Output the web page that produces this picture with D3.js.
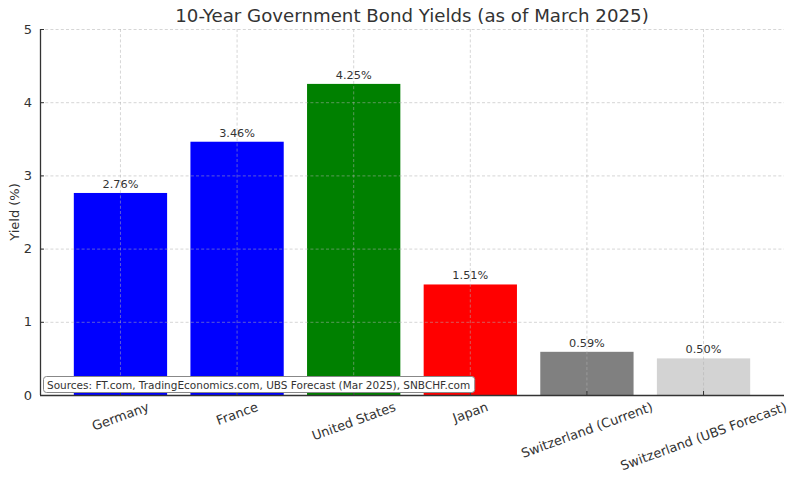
<!DOCTYPE html>
<html><head><meta charset="utf-8">
<script src="https://cdn.jsdelivr.net/npm/d3@7"></script>
<style>
html,body{margin:0;padding:0;background:#fff;}
text{font-family:"DejaVu Sans",sans-serif;fill:#333;}
</style></head>
<body><svg id="c" width="800" height="484"></svg>
<script>
const countries = ["Germany","France","United States","Japan","Switzerland (Current)","Switzerland (UBS Forecast)"];
const yields = [2.76, 3.46, 4.25, 1.51, 0.59, 0.50];
const yTicks = [0,1,2,3,4,5];
const titleText = "10-Year Government Bond Yields (as of March 2025)";
const yLabelText = "Yield (%)";
const sourceText = "Sources: FT.com, TradingEconomics.com, UBS Forecast (Mar 2025), SNBCHF.com";

const m = {left:40, right:784, top:29, bottom:395};
const svg = d3.select("#c");

const color = d3.scaleOrdinal().domain(countries)
  .range(["#0000ff","#0000ff","#008000","#ff0000","#808080","#d3d3d3"]);

const x = d3.scaleBand().domain(countries).range([m.left, m.right])
  .paddingInner(0.2).paddingOuter(0.29);
const y = d3.scaleLinear().domain([0,5]).range([m.bottom, m.top]);

// bars
svg.append("g").selectAll("rect").data(countries).join("rect")
  .attr("x", d => x(d)).attr("width", x.bandwidth())
  .attr("y", (d,i) => y(yields[i])).attr("height", (d,i) => y(0) - y(yields[i]))
  .attr("fill", d => color(d));

// grid (drawn over bars)
const grid = svg.append("g").attr("stroke","#b0b0b0").attr("stroke-opacity",0.65)
  .attr("stroke-dasharray","3,2.2").attr("stroke-width",0.8);
grid.selectAll("line.h").data(yTicks).join("line").attr("class","h")
  .attr("x1", m.left).attr("x2", m.right)
  .attr("y1", d => y(d)+0.5).attr("y2", d => y(d)+0.5);
grid.selectAll("line.v").data(countries).join("line").attr("class","v")
  .attr("x1", d => x(d)+x.bandwidth()/2).attr("x2", d => x(d)+x.bandwidth()/2)
  .attr("y1", m.top).attr("y2", m.bottom);

// value labels
svg.append("g").selectAll("text").data(countries).join("text")
  .attr("x", d => x(d)+x.bandwidth()/2)
  .attr("y", (d,i) => y(yields[i]) - 5)
  .attr("text-anchor","middle").style("font-size","11.3px")
  .text((d,i) => yields[i].toFixed(2) + "%");

// y axis
const yAxis = d3.axisLeft(y).tickValues(yTicks).tickSize(-4).tickPadding(8).tickFormat(d3.format("d"));
const gy = svg.append("g").attr("transform",`translate(${m.left},0)`).call(yAxis);
gy.select(".domain").attr("stroke","#333").attr("stroke-width",1.3).attr("d",`M0.5,${m.top}V${m.bottom}`);
gy.selectAll(".tick line").attr("stroke","#333");
gy.selectAll(".tick text").style("font-size","13px").attr("fill","#333").style("font-family","DejaVu Sans");

// x axis
const xAxis = d3.axisBottom(x).tickSize(-4).tickPadding(0).tickFormat("");
const gx = svg.append("g").attr("transform",`translate(0,${m.bottom})`).call(xAxis);
gx.select(".domain").attr("stroke","#333").attr("stroke-width",1.3).attr("d",`M${m.left},0.5H${m.right}`);
gx.selectAll(".tick line").attr("stroke","#333");

// rotated x labels (rotated bbox centered on tick, top at pad)
const ang = 20*Math.PI/180;
const fs = 13;
const lbl = svg.append("g").selectAll("text").data(countries).join("text")
  .style("font-size", fs+"px").attr("text-anchor","middle").attr("dy","0.35em")
  .text(d => d);
lbl.each(function(d){
  const w = this.getComputedTextLength();
  const h = fs*1.17;
  const bh = w*Math.sin(ang) + h*Math.cos(ang);
  const cx = x(d)+x.bandwidth()/2;
  const cy = m.bottom + 4 + bh/2;
  d3.select(this).attr("transform",`translate(${cx},${cy}) rotate(-20)`);
});

// y label
svg.append("text").attr("transform",`translate(14,${(m.top+m.bottom)/2}) rotate(-90)`)
  .attr("text-anchor","middle").attr("dy","0.35em").style("font-size","13px").text(yLabelText);

// title
svg.append("text").attr("x",(m.left+m.right)/2).attr("y",22)
  .attr("text-anchor","middle").style("font-size","18.2px").text(titleText);

// source box
const sg = svg.append("g");
const st = sg.append("text").attr("x",47).attr("y",389).style("font-size","10.5px").text(sourceText);
const sw = st.node().getComputedTextLength();
sg.insert("rect","text").attr("x",43.5).attr("y",376.5).attr("width",sw+8).attr("height",16)
  .attr("rx",3).attr("fill","#fff").attr("stroke","#888").attr("stroke-width",1);
</script></body></html>
